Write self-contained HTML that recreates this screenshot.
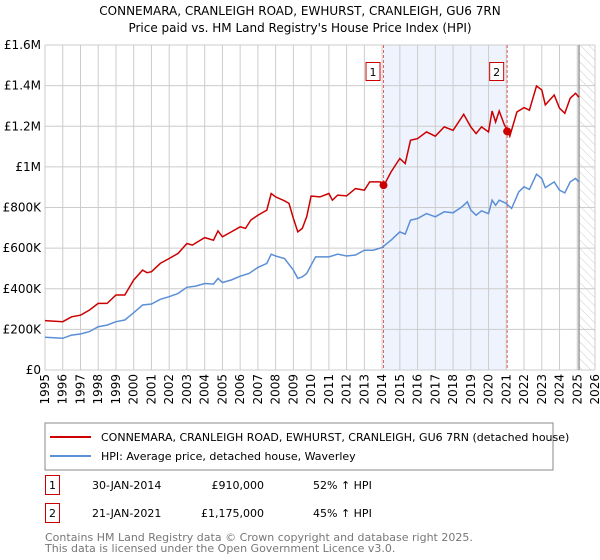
<!DOCTYPE html>
<html><head><meta charset="utf-8"><style>
body{margin:0;background:#fff;font-family:"DejaVu Sans","Liberation Sans",sans-serif;}
#wrap{position:relative;width:600px;height:560px;overflow:hidden;}
svg text{font-family:"DejaVu Sans","Liberation Sans",sans-serif;}
</style></head><body>
<div id="wrap">
<svg id="chart" width="600" height="560">
<defs><pattern id="hatch" width="6" height="6" patternUnits="userSpaceOnUse" patternTransform="rotate(-45)"><line x1="0" y1="0" x2="0" y2="6" stroke="#ccc" stroke-width="1"/></pattern></defs>
<text x="300" y="15" text-anchor="middle" font-size="12" fill="#000">CONNEMARA, CRANLEIGH ROAD, EWHURST, CRANLEIGH, GU6 7RN</text>
<text x="300" y="32" text-anchor="middle" font-size="12" fill="#000">Price paid vs. HM Land Registry's House Price Index (HPI)</text>
<g id="grid"></g><g id="series"></g><g id="axes"></g>
<rect x="45" y="423" width="508" height="47" fill="#fff" stroke="#888"/>
<line x1="50" y1="437" x2="91" y2="437" stroke="#cc0000" stroke-width="2"/>
<text x="101" y="441" font-size="11">CONNEMARA, CRANLEIGH ROAD, EWHURST, CRANLEIGH, GU6 7RN (detached house)</text>
<line x1="50" y1="456" x2="91" y2="456" stroke="#5b8fd6" stroke-width="2"/>
<text x="101" y="460" font-size="11">HPI: Average price, detached house, Waverley</text>
<g>
<rect x="45.5" y="475.5" width="14" height="19" fill="#fff" stroke="#cc0000"/><text x="52.5" y="489" font-size="11" text-anchor="middle">1</text>
<text x="92" y="489" font-size="11">30-JAN-2014</text><text x="264" y="489" font-size="11" text-anchor="end">£910,000</text><text x="313" y="489" font-size="11">52% ↑ HPI</text></g>
<g>
<rect x="45.5" y="503.5" width="14" height="19" fill="#fff" stroke="#cc0000"/><text x="52.5" y="517" font-size="11" text-anchor="middle">2</text>
<text x="92" y="517" font-size="11">21-JAN-2021</text><text x="264" y="517" font-size="11" text-anchor="end">£1,175,000</text><text x="313" y="517" font-size="11">45% ↑ HPI</text></g>
<text x="45" y="541" font-size="11" fill="#777">Contains HM Land Registry data © Crown copyright and database right 2025.</text>
<text x="45" y="552" font-size="11" fill="#777">This data is licensed under the Open Government Licence v3.0.</text>
</svg></div>
<script>
const yTicks=[0,200000,400000,600000,800000,1000000,1200000,1400000,1600000];
const yTickLabels=["£0","£200K","£400K","£600K","£800K","£1M","£1.2M","£1.4M","£1.6M"];
const xYears=[1995,1996,1997,1998,1999,2000,2001,2002,2003,2004,2005,2006,2007,2008,2009,2010,2011,2012,2013,2014,2015,2016,2017,2018,2019,2020,2021,2022,2023,2024,2025,2026];
const hpiT=[1995,1996,1996.5,1997,1997.5,1998,1998.5,1999,1999.5,2000,2000.5,2001,2001.5,2002,2002.5,2003,2003.5,2004,2004.5,2004.75,2005,2005.5,2006,2006.5,2007,2007.5,2007.75,2008,2008.5,2009,2009.25,2009.5,2009.75,2010,2010.25,2011,2011.5,2012,2012.5,2013,2013.5,2014,2014.5,2015,2015.3,2015.6,2016,2016.5,2017,2017.5,2018,2018.5,2018.8,2019,2019.3,2019.6,2020,2020.2,2020.4,2020.6,2021,2021.3,2021.7,2022,2022.3,2022.7,2023,2023.2,2023.7,2024,2024.3,2024.6,2024.9,2025.1];
const hpiV=[161,156,172,177,189,213,221,238,246,282,320,325,348,361,377,407,413,426,423,451,431,443,462,475,505,525,570,561,549,492,451,459,475,516,557,557,570,561,566,590,590,603,639,680,669,738,746,770,754,779,774,803,828,787,762,784,770,836,811,836,820,795,877,902,889,964,943,898,926,885,872,926,943,926];
const propT=[1995,1996,1996.5,1997,1997.5,1998,1998.5,1999,1999.5,2000,2000.5,2000.75,2001,2001.5,2002,2002.5,2003,2003.3,2004,2004.5,2004.75,2005,2005.5,2006,2006.3,2006.6,2007,2007.5,2007.75,2008,2008.5,2008.75,2009,2009.25,2009.5,2009.75,2010,2010.5,2011,2011.2,2011.5,2012,2012.5,2013,2013.3,2013.9,2014.08,2014.5,2015,2015.3,2015.6,2016,2016.5,2017,2017.5,2018,2018.6,2019,2019.3,2019.6,2020,2020.2,2020.4,2020.6,2020.9,2021.05,2021.2,2021.6,2022,2022.3,2022.7,2023,2023.2,2023.7,2024,2024.3,2024.6,2024.9,2025.1];
const propV=[243,238,262,270,295,328,328,369,369,443,492,479,484,525,549,574,623,615,652,639,685,656,680,705,697,738,762,787,869,852,833,820,746,680,697,754,856,852,869,836,861,857,893,885,926,926,905,975,1041,1016,1131,1139,1172,1151,1197,1180,1259,1197,1164,1197,1172,1275,1221,1275,1205,1185,1151,1270,1292,1279,1398,1379,1305,1354,1289,1264,1338,1362,1343];
const saleT=[2014.08,2021.05];
const saleV=[910,1175];
const saleLabels=["1","2"];
const X0=45,X1=595,Y0=370,Y1=45,T0=1995,T1=2026,VMAX=1600000;
const xs=t=>X0+(t-T0)/(T1-T0)*(X1-X0);
const ys=v=>Y0-v/VMAX*(Y0-Y1);
const NS="http://www.w3.org/2000/svg";
function mk(tag,attrs,parent){const e=document.createElementNS(NS,tag);for(const k in attrs)e.setAttribute(k,attrs[k]);parent.appendChild(e);return e;}
const grid=document.getElementById('grid'),ser=document.getElementById('series'),ax=document.getElementById('axes');
const sh=mk('rect',{x:xs(saleT[0]),y:Y1,width:xs(saleT[1])-xs(saleT[0]),height:Y0-Y1,fill:'#eef3fd'},grid);


const ht=mk('rect',{x:xs(2025.1),y:Y1,width:X1-xs(2025.1),height:Y0-Y1,fill:'url(#hatch)'},grid);


yTicks.forEach((v,i)=>{
 const l=mk('line',{x1:X0,x2:X1,y1:ys(v),y2:ys(v),stroke:'#ccc'},grid);
 
 
 const t=mk('text',{x:X0-4,y:ys(v)+4,'text-anchor':'end','font-size':'12'},ax);
 t.textContent=yTickLabels[i];
 
 
});
xYears.forEach(yr=>{
 const l=mk('line',{x1:xs(yr),x2:xs(yr),y1:Y1,y2:Y0,stroke:'#ccc'},grid);
 
 
 const t=mk('text',{x:0,y:0,'text-anchor':'end','font-size':'12',transform:`translate(${xs(yr)+4},${Y0+4}) rotate(-90)`},ax);
 t.textContent=yr;
 
 
});
const vl=mk('line',{x1:xs(2025.1),x2:xs(2025.1),y1:Y1,y2:Y0,stroke:'#999','stroke-width':1.5},grid);


saleT.forEach((t,i)=>{
 const l=mk('line',{x1:xs(t),x2:xs(t),y1:Y1,y2:Y0,stroke:'#e06060','stroke-dasharray':'3,2'},grid);
 
 
 const r=mk('rect',{x:xs(t)-17.5,y:62.5,width:14,height:18,fill:'#fff',stroke:'#cc0000'},ax);
 
 
 const tx=mk('text',{x:xs(t)-10.5,y:76,'text-anchor':'middle','font-size':'11'},ax);
 tx.textContent=saleLabels[i];
 
 
});
const pts=(T,V)=>T.map((t,i)=>xs(t).toFixed(1)+','+ys(V[i]*1000).toFixed(1)).join(' ');
const hp=mk('polyline',{points:pts(hpiT,hpiV),fill:'none',stroke:'#5b8fd6','stroke-width':1.5},ser);


const pp=mk('polyline',{points:pts(propT,propV),fill:'none',stroke:'#cc0000','stroke-width':1.5},ser);


saleT.forEach((t,i)=>{
 const c=mk('circle',{cx:xs(t),cy:ys(saleV[i]*1000),r:4,fill:'#cc0000'},ser);
 
 
});
</script>
</body></html>
